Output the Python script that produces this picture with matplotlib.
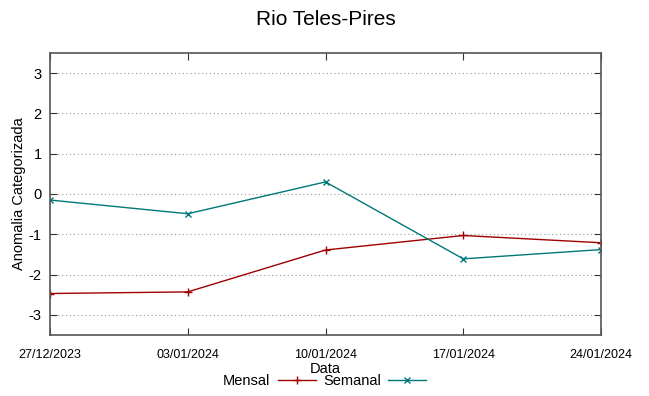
import matplotlib
matplotlib.use('Agg')
import matplotlib.pyplot as plt
from datetime import datetime

plt.rcParams['font.family'] = ['Liberation Sans', 'DejaVu Sans']

datas = ['27/12/2023', '03/01/2024', '10/01/2024', '17/01/2024', '24/01/2024']
mensal = [-2.47, -2.43, -1.39, -1.03, -1.21]
semanal = [-0.15, -0.49, 0.30, -1.61, -1.38]
yticks = [-3, -2, -1, 0, 1, 2, 3]

x = [datetime.strptime(d, '%d/%m/%Y') for d in datas]

fig = plt.figure(figsize=(6.49, 3.96), dpi=100)
ax = fig.add_axes([50 / 649, 1 - 335 / 396, 551 / 649, 282 / 396])

ax.plot(x, mensal, color='#a00000', lw=1, marker='+', ms=6, mew=1, label='Mensal')
ax.plot(x, semanal, color='#007878', lw=1, marker='x', ms=5, mew=1, label='Semanal')

ax.set_xlim(x[0], x[-1])
ax.set_ylim(-3.5, 3.5)
ax.set_yticks(yticks)
ax.set_yticklabels([str(v) for v in yticks], fontsize=10.5)
ax.set_xticks(x)
ax.set_xticklabels(datas, fontsize=9, family=['Liberation Sans Narrow', 'Liberation Sans'])
ax.tick_params(direction='in', length=5, top=True, right=True, color='#333333', pad=10)
ax.tick_params(axis='y', pad=6)
ax.yaxis.grid(True, linestyle=(0, (1, 2.5)), color='#999999', lw=0.8)
for s in ax.spines.values():
    s.set_color('#555555')
    s.set_linewidth(1.2)

ax.set_title('Rio Teles-Pires', fontsize=15, pad=20)
ax.set_ylabel('Anomalia Categorizada', fontsize=10.5, labelpad=2)
ax.set_xlabel('Data', fontsize=10.5, labelpad=1)

fig.legend(loc='lower center', bbox_to_anchor=(0.50, -0.012), ncol=2, frameon=False,
           fontsize=10.5, markerfirst=False, handlelength=2.6, columnspacing=0.5,
           handletextpad=0.5)

fig.savefig('out.png', dpi=100)
